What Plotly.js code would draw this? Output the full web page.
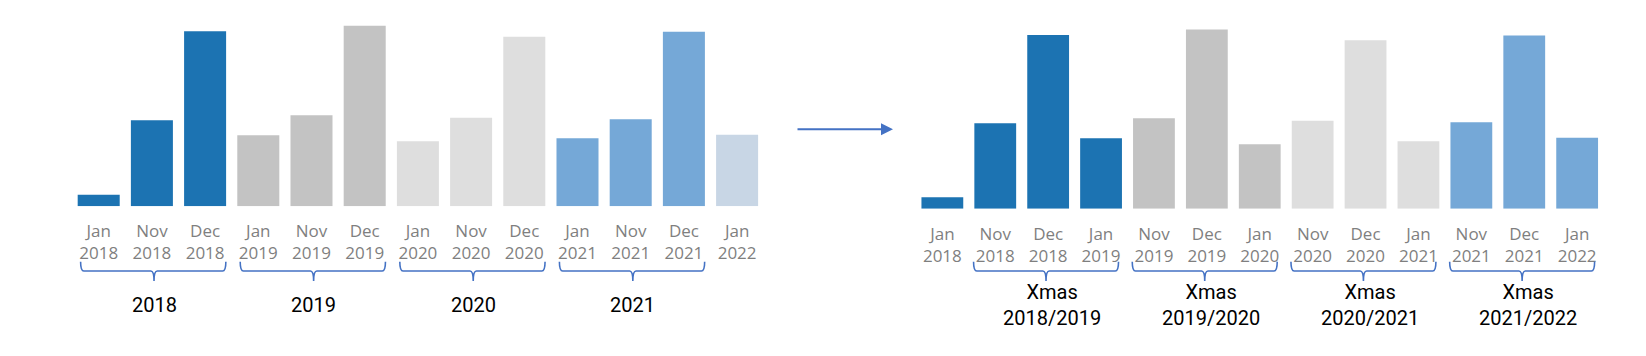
<!DOCTYPE html>
<html>
<head>
<meta charset="utf-8">
<script src="https://cdn.plot.ly/plotly-3.0.1.min.js"></script>
<style>
  html, body { margin: 0; padding: 0; background: #fff; }
  #chart { width: 1646px; height: 356px; }
</style>
</head>
<body>
<div id="chart"></div>
<script>
// ---- data ----
const months = ["Jan", "Nov", "Dec", "Jan", "Nov", "Dec", "Jan", "Nov", "Dec", "Jan", "Nov", "Dec", "Jan"];
const years  = ["2018", "2018", "2018", "2019", "2019", "2019", "2020", "2020", "2020", "2021", "2021", "2021", "2022"];
const values = [11.5, 86, 175, 71, 91, 180.5, 65, 88.5, 169.5, 68, 87, 174.5, 71.5];

// left chart: calendar-year grouping
const leftGroupLabels = ["2018", "2019", "2020", "2021"];
const leftGroupStart  = [0, 3, 6, 9];
const leftGroupEnd    = [2, 5, 8, 11];

// right chart: Christmas-season grouping
const rightGroupLabels = ["Xmas<br>2018/2019", "Xmas<br>2019/2020", "Xmas<br>2020/2021", "Xmas<br>2021/2022"];
const rightGroupStart  = [1, 4, 7, 10];
const rightGroupEnd    = [3, 6, 9, 12];

// ---- styles ----
const C_DARK = "#1c73b2", C_GREY = "#c3c3c3", C_LIGHT = "#dedede", C_MID = "#75a8d7", C_PALE = "#c8d6e5";
const groupColors = [C_DARK, C_GREY, C_LIGHT, C_MID];
const BRACE = "#4472c4";
const W = 1646, H = 356;
const py = p => 1 - p / H;

const cats = months.map((m, i) => m + " " + years[i]);
const tickText = months.map((m, i) => m + "<br>" + years[i]);

function colorsFor(starts, ends, fallback) {
  return cats.map((c, i) => {
    for (let g = 0; g < starts.length; g++) {
      if (i >= starts[g] && i <= ends[g]) return groupColors[g];
    }
    return fallback(i);
  });
}
const leftColors = colorsFor(leftGroupStart, leftGroupEnd, () => C_PALE);
const rightColors = colorsFor(rightGroupStart, rightGroupEnd, () => C_DARK);

const traces = [
  { type: "bar", x: cats, y: values, xaxis: "x", yaxis: "y",
    marker: { color: leftColors }, hoverinfo: "x+y" },
  { type: "bar", x: cats, y: values, xaxis: "x2", yaxis: "y2",
    marker: { color: rightColors }, hoverinfo: "x+y" }
];

const tickFont = { family: "Open Sans, Noto Sans, sans-serif", size: 17, color: "#7f7f7f" };
const xCommon = {
  type: "category", showgrid: false, zeroline: false, showline: false, ticks: "",
  tickmode: "array", tickvals: cats, ticktext: tickText, tickfont: tickFont,
  ticklabelstandoff: 13, range: [-0.5, 12.5], fixedrange: true
};
const yCommon = { showgrid: false, zeroline: false, showline: false, showticklabels: false, ticks: "", fixedrange: true };

const shapes = [];
const annotations = [];

function brace(xref, x0, x1, xc, aX) {
  const yt = py(261.7), ym = py(271), yb = py(281);
  const path =
    `M${x0},${yt} Q${x0},${ym} ${x0 + aX},${ym} L${xc - aX},${ym} Q${xc},${ym} ${xc},${yb} ` +
    `M${xc},${yb} Q${xc},${ym} ${xc + aX},${ym} L${x1 - aX},${ym} Q${x1},${ym} ${x1},${yt}`;
  shapes.push({ type: "path", xref: xref, yref: "paper", path: path,
    line: { color: BRACE, width: 1.6 }, layer: "above" });
}

const labelFont = { family: "Roboto, Inter, sans-serif", size: 20, color: "#000" };
leftGroupLabels.forEach((lab, g) => {
  const s = leftGroupStart[g], e = leftGroupEnd[g];
  brace("x", s - 0.34, e + 0.39, (s + e) / 2 + 0.04, 0.06);
  annotations.push({ xref: "x", yref: "paper", x: (s + e) / 2 + 0.04, y: py(305), text: lab,
    showarrow: false, font: labelFont, xanchor: "center", yanchor: "middle" });
});
rightGroupLabels.forEach((lab, g) => {
  const s = rightGroupStart[g], e = rightGroupEnd[g];
  brace("x2", s - 0.41, e + 0.33, (s + e) / 2 - 0.04, 0.06);
  annotations.push({ xref: "x2", yref: "paper", x: (s + e) / 2 + 0.08, y: py(305.3), text: lab,
    showarrow: false, font: labelFont, xanchor: "center", yanchor: "middle" });
});

// arrow between the two charts
annotations.push({ xref: "paper", yref: "paper", x: 893 / W, y: py(129.3), text: "",
  showarrow: true, ax: -97, ay: 0, arrowhead: 2, arrowsize: 1.2, arrowwidth: 2, arrowcolor: BRACE });

const layout = {
  width: W, height: H,
  margin: { l: 0, r: 0, t: 0, b: 0 },
  paper_bgcolor: "#fff", plot_bgcolor: "#fff",
  showlegend: false, bargap: 0.21,
  xaxis: Object.assign({}, xCommon, { domain: [72.1 / W, 763.7 / W], anchor: "y" }),
  yaxis: Object.assign({}, yCommon, { domain: [py(206.3), py(20)], range: [0, 186.3], anchor: "x" }),
  xaxis2: Object.assign({}, xCommon, { domain: [915.9 / W, 1603.6 / W], anchor: "y2" }),
  yaxis2: Object.assign({}, yCommon, { domain: [py(208.7), py(20)], range: [0, 190.0], anchor: "x2" }),
  shapes: shapes,
  annotations: annotations
};

Plotly.newPlot("chart", traces, layout, { displayModeBar: false, staticPlot: true });
</script>
</body>
</html>
